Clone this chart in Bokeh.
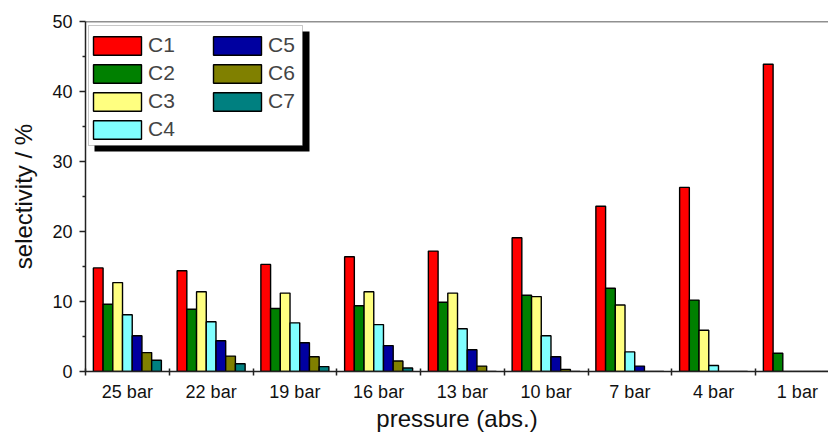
from bokeh.plotting import figure
from bokeh.models import (ColumnDataSource, Range1d, FixedTicker, Legend, LegendItem,
                          Span, BoxAnnotation)
from bokeh.transform import dodge
from bokeh.embed import file_html
from bokeh.resources import INLINE

pressures = ["25 bar", "22 bar", "19 bar", "16 bar", "13 bar", "10 bar", "7 bar", "4 bar", "1 bar"]
C1 = [14.8, 14.4, 15.3, 16.4, 17.2, 19.1, 23.6, 26.3, 43.9]
C2 = [9.6, 8.9, 9.0, 9.4, 9.9, 10.9, 11.9, 10.2, 2.6]
C3 = [12.7, 11.4, 11.2, 11.4, 11.2, 10.7, 9.5, 5.9, 0.0]
C4 = [8.1, 7.1, 6.95, 6.7, 6.1, 5.1, 2.8, 0.86, 0.0]
C5 = [5.1, 4.4, 4.1, 3.7, 3.1, 2.1, 0.77, 0.0, 0.0]
C6 = [2.7, 2.2, 2.1, 1.5, 0.77, 0.3, 0.0, 0.0, 0.0]
C7 = [1.6, 1.1, 0.7, 0.5, 0.0, 0.0, 0.0, 0.0, 0.0]
series_names = ["C1", "C2", "C3", "C4", "C5", "C6", "C7"]
series_colors = ["#FF0000", "#008000", "#FFFF80", "#80FFFF", "#0000A0", "#808000", "#008080"]
y_ticks = [0, 10, 20, 30, 40, 50]
y_minor = [5, 15, 25, 35, 45]
x_title = "pressure (abs.)"
y_title = "selectivity / %"

FONT = "Liberation Sans"
group_px = 83.75
frame_w = 743
x_idx = list(range(len(pressures)))

src = ColumnDataSource(dict(x=x_idx, C1=C1, C2=C2, C3=C3, C4=C4, C5=C5, C6=C6, C7=C7))

p = figure(width=828, height=434, output_backend="svg", toolbar_location=None,
           x_range=Range1d(-0.5, -0.5 + frame_w / group_px), y_range=Range1d(0, 50),
           min_border_left=85, min_border_right=0, min_border_top=21, min_border_bottom=63)
p.outline_line_color = None
p.grid.visible = False
p.background_fill_color = "white"

w = 0.116
renderers = []
for j, (name, col) in enumerate(zip(series_names, series_colors)):
    r = p.vbar(x=dodge("x", (j - 3) * w, range=p.x_range), top=name, width=w, bottom=0,
               source=src, fill_color=col, line_color="black", line_width=1.4)
    renderers.append(r)

# top frame line
p.add_layout(Span(location=50, dimension="width", line_color="#222222", line_width=1.5))

# x axis
xa = p.xaxis[0]
xa.ticker = FixedTicker(ticks=x_idx, minor_ticks=[i - 0.5 for i in range(len(pressures) + 1)])
xa.major_label_overrides = {i: lab for i, lab in enumerate(pressures)}
xa.major_tick_in = 0
xa.major_tick_out = 0
xa.minor_tick_in = 3
xa.minor_tick_out = 4
xa.minor_tick_line_color = "#222222"
xa.minor_tick_line_width = 1.5
xa.axis_line_color = "#222222"
xa.axis_line_width = 1.5
xa.major_label_standoff = 6
xa.major_label_text_font = FONT
xa.major_label_text_font_size = "18px"
xa.major_label_text_color = "#111111"
xa.axis_label = x_title
xa.axis_label_text_font = FONT
xa.axis_label_text_font_size = "24px"
xa.axis_label_text_font_style = "normal"
xa.axis_label_text_color = "#111111"
xa.axis_label_standoff = 0

ya = p.yaxis[0]
ya.ticker = FixedTicker(ticks=y_ticks, minor_ticks=y_minor)
ya.major_tick_in = 0
ya.major_tick_out = 6
ya.minor_tick_in = 0
ya.minor_tick_out = 3
ya.major_tick_line_color = "#222222"
ya.minor_tick_line_color = "#222222"
ya.major_tick_line_width = 1.5
ya.minor_tick_line_width = 1.5
ya.axis_line_color = "#222222"
ya.axis_line_width = 1.5
ya.major_label_standoff = 7
ya.major_label_text_font = FONT
ya.major_label_text_font_size = "18px"
ya.major_label_text_color = "#111111"
ya.axis_label = y_title
ya.axis_label_text_font = FONT
ya.axis_label_text_font_size = "24px"
ya.axis_label_text_font_style = "normal"
ya.axis_label_text_color = "#111111"
ya.axis_label_standoff = 12

# legend shadow and box (screen units, relative to frame bottom-left)
shadow = BoxAnnotation(left=9, right=224, top=340, bottom=220,
                       left_units="screen", right_units="screen",
                       top_units="screen", bottom_units="screen",
                       fill_color="black", fill_alpha=1.0, line_color=None)
p.add_layout(shadow)
box = BoxAnnotation(left=3, right=217, top=346, bottom=226,
                    left_units="screen", right_units="screen",
                    top_units="screen", bottom_units="screen",
                    fill_color="white", fill_alpha=1.0, line_color="#444444", line_width=1)
p.add_layout(box)

legend = Legend(items=[LegendItem(label=n, renderers=[r]) for n, r in zip(series_names, renderers)],
                location=(2, 230), nrows=4, orientation="vertical", margin=0, padding=0,
                glyph_width=60, glyph_height=23, spacing=4, label_standoff=1,
                label_height=23, label_width=55,
                label_text_font=FONT, label_text_font_size="21px",
                border_line_color=None, background_fill_alpha=0.0)
p.add_layout(legend)

open("out.html", "w").write(file_html(p, INLINE))
